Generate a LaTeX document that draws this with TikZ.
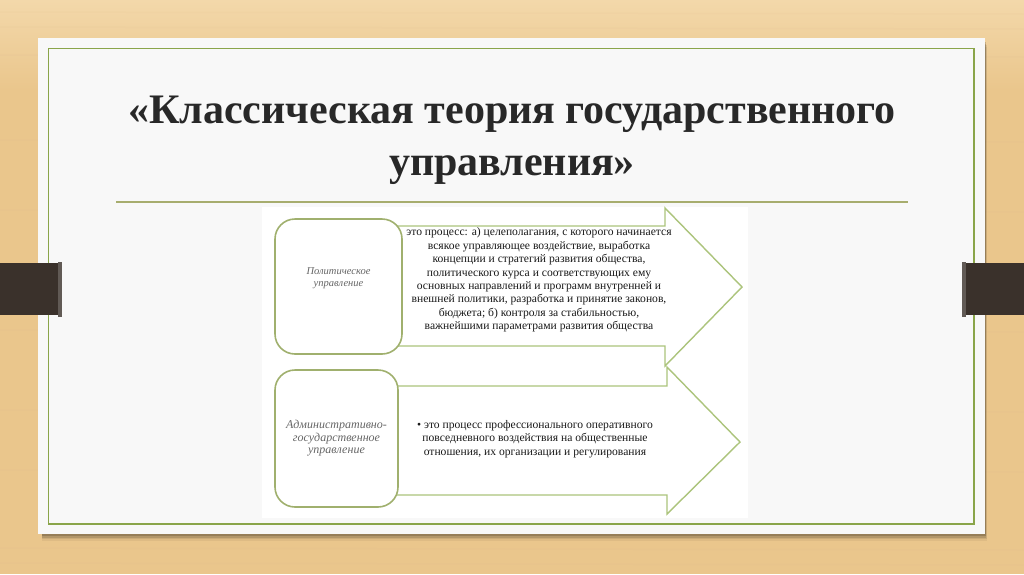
\documentclass[tikz,border=0pt]{standalone}
\usepackage{fontspec}
\setmainfont{Liberation Serif}
\definecolor{wood}{RGB}{234,198,140}
\definecolor{woodlight}{RGB}{243,216,170}
\definecolor{paper}{RGB}{248,248,248}
\definecolor{frame}{RGB}{138,165,74}
\definecolor{rule}{RGB}{167,173,110}
\definecolor{bar}{RGB}{58,49,43}
\definecolor{boxline}{RGB}{160,176,110}
\definecolor{arrowline}{RGB}{172,196,124}
\definecolor{titlecol}{RGB}{40,40,40}
\begin{document}
\begin{tikzpicture}[x=1pt,y=-1pt,
    titletext/.style={font=\bfseries\fontsize{42}{52}\selectfont,text=titlecol,anchor=base,inner sep=0pt},
    sidebox/.style={draw=boxline,line width=1.6pt,fill=white,rounded corners=20pt,inner sep=0pt},
    sidetext/.style={font=\itshape\fontsize{10.5}{12}\selectfont,text=black!60,align=center,inner sep=0pt},
    deftext/.style={font=\fontsize{11.6}{13.4}\selectfont,text=black!90,align=center,inner sep=0pt},
    arrowbody/.style={draw=arrowline,line width=1.4pt,fill=white,line join=miter}]
    \useasboundingbox (0,0) rectangle (1024,574);
    % wood and slide
    \shade[top color=woodlight,bottom color=wood] (0,0) rectangle (1024,90);
    \fill[wood] (0,90) rectangle (1024,574);
    \foreach \y in {12,27,55,140,210,330,410,470,548,563}
        \draw[brown!60,opacity=0.08,line width=1.5pt] (0,\y) -- (1024,\y+2);
    \foreach \d/\o in {7/0.05,5/0.08,3.5/0.12,2/0.16}
        \fill[black,opacity=\o] (42,40+\d) rectangle (985+\d*0.3,534+\d);
    \fill[paper] (38,38) rectangle (985,534);
    \draw[frame,line width=1.2pt] (48.5,48.5) rectangle (974,524);
    % bars
    \fill[bar] (0,263) rectangle (60,315);
    \fill[bar!80] (58,261.5) rectangle (62,316.5);
    \fill[bar] (964,263) rectangle (1024,315);
    \fill[bar!80] (962,261.5) rectangle (966,316.5);
    % title
    \node[titletext] (title1) at (512,123) {«Классическая теория государственного};
    \node[titletext] (title2) at (512,175) {управления»};
    \draw[rule,line width=1.5pt] (116,202) -- (908,202);
    % diagram
    \fill[white] (262,207) rectangle (748,518);
    \draw[arrowbody] (390,226) -- (665,226) -- (665,208) -- (742,287) -- (665,366) -- (665,346) -- (390,346) -- cycle;
    \draw[arrowbody] (390,386) -- (667,386) -- (667,367) -- (740,442) -- (667,514) -- (667,495) -- (390,495) -- cycle;
    \node[sidebox,minimum width=127pt,minimum height=135pt] (politbox) at (338.5,286.5) {};
    \node[sidebox,minimum width=123pt,minimum height=137pt] (adminbox) at (336.5,438.5) {};
    \node[sidetext] (polit) at (politbox.center) [yshift=8pt] {Политическое\\управление};
    \node[sidetext,font=\itshape\fontsize{12}{12.5}\selectfont] (admin) at (adminbox.center) {Административно-\\государственное\\управление};
    \node[deftext] (politdef) at (539,280) {это процесс: а) целеполагания, с которого начинается\\
        всякое управляющее воздействие, выработка\\
        концепции и стратегий развития общества,\\
        политического курса и соответствующих ему\\
        основных направлений и программ внутренней и\\
        внешней политики, разработка и принятие законов,\\
        бюджета; б) контроля за стабильностью,\\
        важнейшими параметрами развития общества};
    \node[deftext] (admindef) at (535,439) {• это процесс профессионального оперативного\\
        повседневного воздействия на общественные\\
        отношения, их организации и регулирования};
\end{tikzpicture}
\end{document}
